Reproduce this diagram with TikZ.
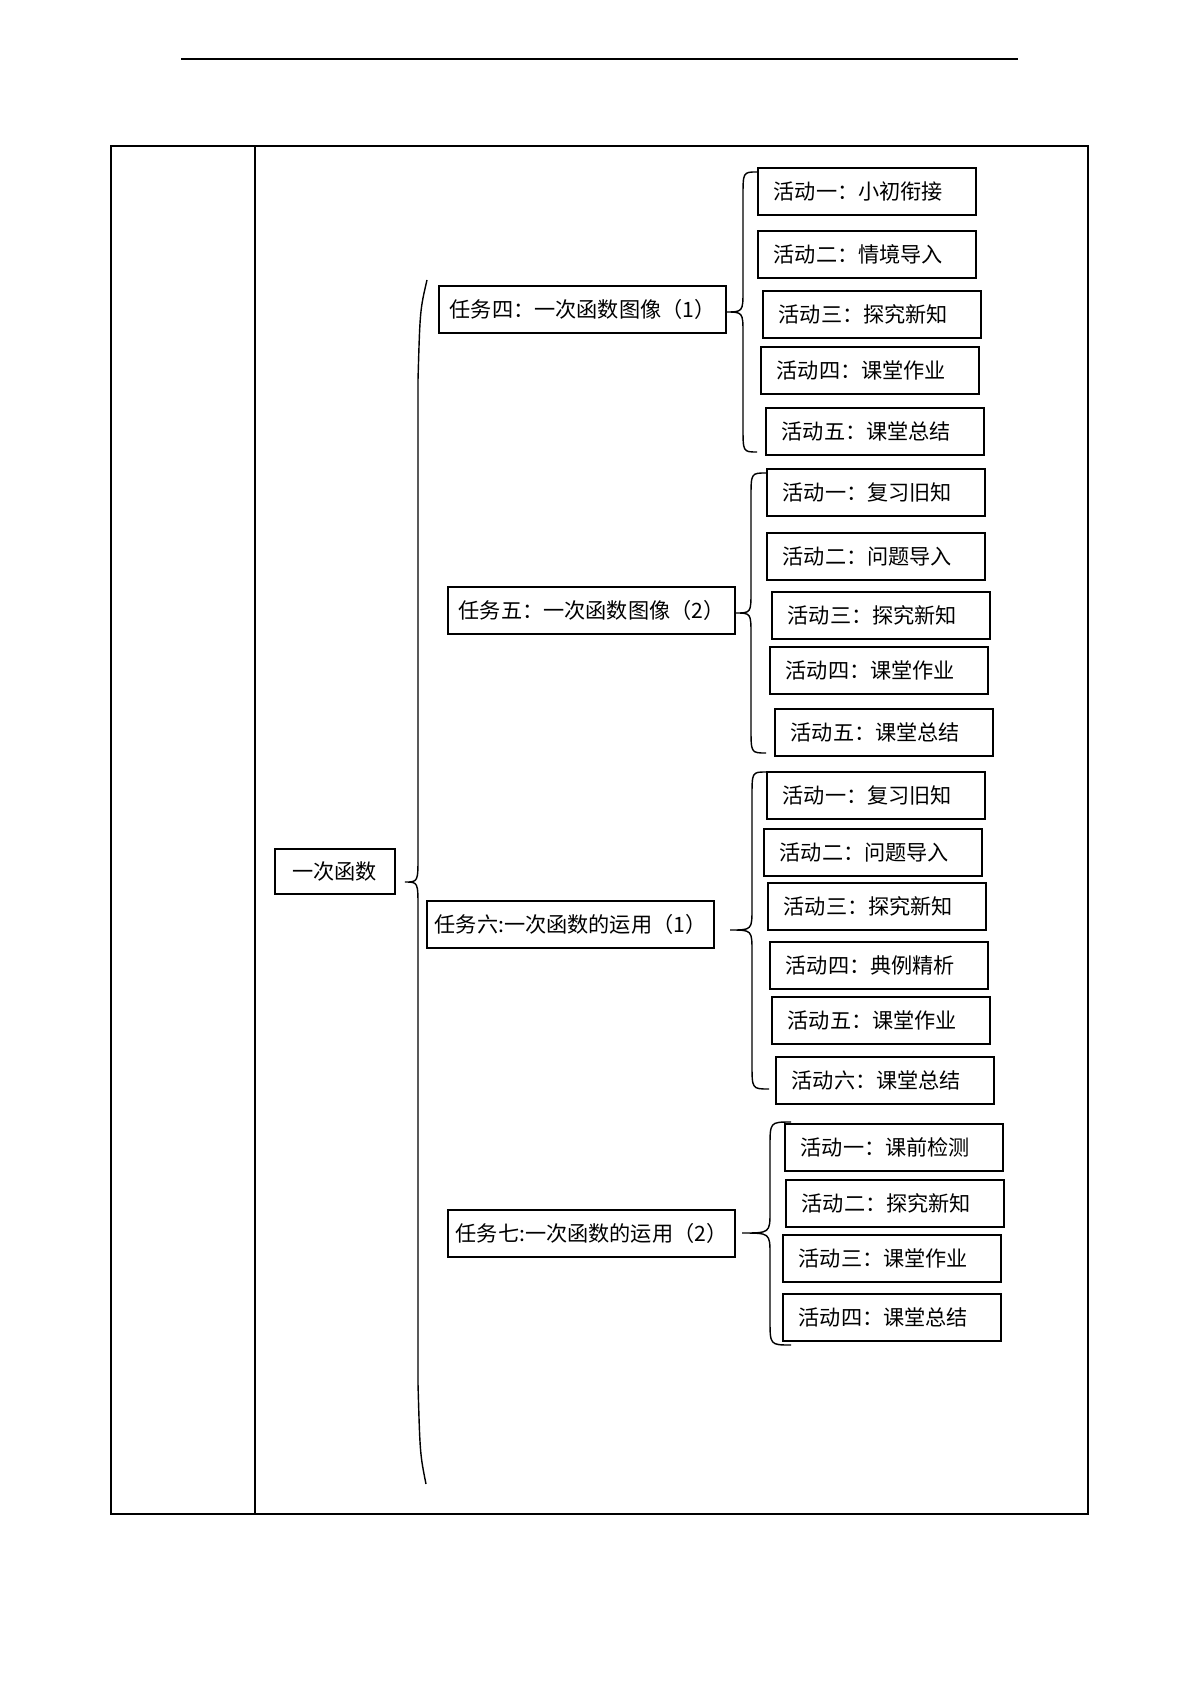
\documentclass[tikz,border=0pt]{standalone}
\usepackage{fontspec}
\newfontfamily\cjkf{Noto Sans CJK SC}
\usetikzlibrary{calc}
\newcommand\drawbrace[6]{%
  \draw[brc] (#1) .. controls (#4 |- #1) .. ($(#4 |- #1)+(0,#5)$)
    -- ($(#4 |- #2)+(0,-#6)$) .. controls (#4 |- #2) .. (#2)
    .. controls (#4 |- #2) .. ($(#4 |- #2)+(0,#6)$)
    -- ($(#4 |- #3)+(0,-#5)$) .. controls (#4 |- #3) .. (#3);}
\begin{document}
\begin{tikzpicture}[x=0.49606pt, y=-0.49606pt,
  txt/.style={font=\cjkf\fontsize{10.5}{12}\selectfont},
  act/.style={txt, draw, line width=0.8pt, anchor=north west, minimum height=23.3pt,
    text width=92.3pt, inner xsep=7.94pt, inner ysep=0pt, align=left},
  task/.style={txt, draw, line width=0.8pt, anchor=north west, minimum height=23.3pt,
    minimum width=142.6pt, inner sep=0pt},
  brc/.style={line width=0.7pt},
  frame/.style={line width=0.7pt}]
\useasboundingbox (0,0) rectangle (1200,1697);
% page header rule and table
\draw[line width=1.2pt] (181,59) -- (1018,59);
\draw[frame] (111,146) rectangle (1088,1514);
\draw[frame] (255,146) -- (255,1514);
% root
\node[txt, draw, line width=0.8pt, anchor=north west, minimum width=59.5pt, minimum height=22.3pt, inner sep=0pt] (root) at (274,848) {一次函数};
% tasks
\node[task] (t4) at (438,285) {任务四：一次函数图像（1）};
\node[task] (t5) at (447,586) {任务五：一次函数图像（2）};
\node[task] (t6) at (426,900) {任务六:一次函数的运用（1）};
\node[task] (t7) at (447,1209) {任务七:一次函数的运用（2）};
% task 4 activities
\node[act] (t4a1) at (757,167) {活动一：小初衔接};
\node[act] (t4a2) at (757,230) {活动二：情境导入};
\node[act] (t4a3) at (762,290) {活动三：探究新知};
\node[act] (t4a4) at (760,346) {活动四：课堂作业};
\node[act] (t4a5) at (765,407) {活动五：课堂总结};
% task 5 activities
\node[act] (t5a1) at (766,468) {活动一：复习旧知};
\node[act] (t5a2) at (766,532) {活动二：问题导入};
\node[act] (t5a3) at (771,591) {活动三：探究新知};
\node[act] (t5a4) at (769,646) {活动四：课堂作业};
\node[act] (t5a5) at (774,708) {活动五：课堂总结};
% task 6 activities
\node[act] (t6a1) at (766,771) {活动一：复习旧知};
\node[act] (t6a2) at (763,828) {活动二：问题导入};
\node[act] (t6a3) at (767,882) {活动三：探究新知};
\node[act] (t6a4) at (769,941) {活动四：典例精析};
\node[act] (t6a5) at (771,996) {活动五：课堂作业};
\node[act] (t6a6) at (775,1056) {活动六：课堂总结};
% task 7 activities
\node[act] (t7a1) at (784,1123) {活动一：课前检测};
\node[act] (t7a2) at (785,1179) {活动二：探究新知};
\node[act] (t7a3) at (782,1234) {活动三：课堂作业};
\node[act] (t7a4) at (782,1293) {活动四：课堂总结};
% brace coordinates
\coordinate (mx) at (418,0);
\coordinate (mt) at (427,280);
\coordinate (mtip) at (405,882);
\coordinate (mb) at (426,1484);
\coordinate (b4x) at (743,0);
\coordinate (b4t) at (757,172);
\coordinate (b4tip) at (725,312);
\coordinate (b4b) at (757,452);
\coordinate (b5x) at (751,0);
\coordinate (b5t) at (766,473);
\coordinate (b5tip) at (735,613);
\coordinate (b5b) at (766,753);
\coordinate (b6x) at (752,0);
\coordinate (b6t) at (766,772);
\coordinate (b6tip) at (730,930);
\coordinate (b6b) at (769,1089);
\coordinate (b7x) at (770,0);
\coordinate (b7t) at (791,1122);
\coordinate (b7tip) at (742,1233);
\coordinate (b7b) at (791,1345);
% main brace (gentle ends)
\draw[brc] (mt) .. controls ($(mx |- mt)+(2,30)$) .. ($(mx |- mt)+(0,100)$)
    -- ($(mx |- mtip)+(0,-26)$) .. controls (mx |- mtip) .. (mtip)
    .. controls (mx |- mtip) .. ($(mx |- mtip)+(0,26)$)
    -- ($(mx |- mb)+(0,-100)$) .. controls ($(mx |- mb)+(2,-30)$) .. (mb);
% task braces
\drawbrace{b4t}{b4tip}{b4b}{b4x}{25}{22}
\drawbrace{b5t}{b5tip}{b5b}{b5x}{25}{22}
\drawbrace{b6t}{b6tip}{b6b}{b6x}{25}{22}
\drawbrace{b7t}{b7tip}{b7b}{b7x}{25}{22}
\end{tikzpicture}
\end{document}
